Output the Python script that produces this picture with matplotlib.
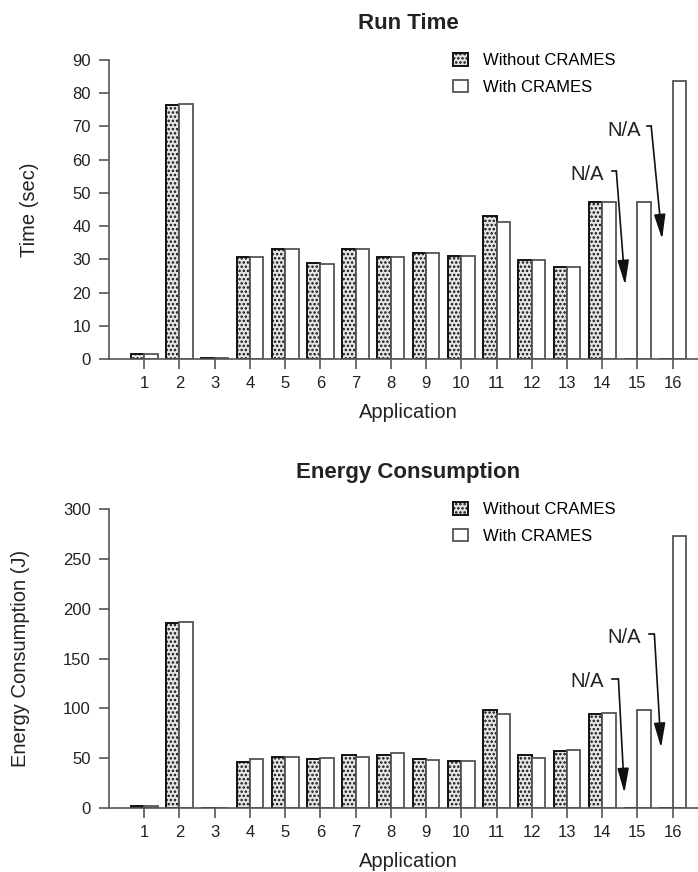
import numpy as np
import matplotlib
matplotlib.use('Agg')
import matplotlib.pyplot as plt

plt.rcParams['font.family'] = ['Liberation Sans', 'DejaVu Sans']
plt.rcParams['hatch.linewidth'] = 1.2
plt.rcParams['hatch.color'] = '#222222'

apps = list(range(1, 17))

# run time (sec); 0 for apps 15, 16 without CRAMES = N/A
time_without = [1.4, 76.5, 0.3, 30.6, 33.0, 28.8, 33.2, 30.8, 31.8, 31.0, 43.0, 29.7, 27.8, 47.2, 0, 0]
time_with = [1.4, 76.8, 0.3, 30.6, 33.0, 28.7, 33.2, 30.8, 31.8, 31.0, 41.3, 29.7, 27.8, 47.2, 47.2, 83.8]

# energy (J)
energy_without = [2.6, 185.7, 0.5, 46.1, 51.1, 49.0, 53.0, 53.0, 49.0, 47.0, 98.5, 53.0, 57.4, 94.8, 0, 0]
energy_with = [2.6, 186.7, 0.5, 49.1, 51.7, 50.0, 51.4, 55.4, 48.7, 47.0, 94.2, 50.4, 58.7, 95.5, 98.8, 273.2]

x = np.array(apps)
w = 0.38

fig = plt.figure(figsize=(6.98, 8.72), dpi=100)
ax1 = fig.add_axes([0.1562, 0.5883, 0.858, 0.3429])
ax2 = fig.add_axes([0.1562, 0.0731, 0.858, 0.3433])


def draw(ax, without, withc, ymax, step, title, ylabel, na):
    ax.bar(x - w / 2, without, w, facecolor='#e6e6e6', edgecolor='#111111',
           linewidth=1.4, hatch='....', label='Without CRAMES')
    ax.bar(x + w / 2, withc, w, facecolor='white', edgecolor='#555555',
           linewidth=1.3, label='With CRAMES')
    ax.set_xlim(0, 17)
    ax.set_ylim(0, ymax)
    ax.set_xticks(apps)
    ax.set_yticks(np.arange(0, ymax + 1, step))
    for s in ['top', 'right']:
        ax.spines[s].set_visible(False)
    for s in ['left', 'bottom']:
        ax.spines[s].set_linewidth(1.2)
        ax.spines[s].set_color('#555555')
    ax.tick_params(direction='out', length=7, width=1.2, color='#555555',
                   labelsize=12, labelcolor='#222222')
    ax.tick_params(axis='x', pad=5)
    ax.tick_params(axis='y', pad=6)
    ax.set_title(title, fontsize=16, fontweight='bold', pad=22, color='#222222')
    ax.set_xlabel('Application', fontsize=14.5, color='#222222', labelpad=9)
    ax.set_ylabel(ylabel, fontsize=14.5, color='#222222', labelpad=24)
    ax.legend(loc='upper left', bbox_to_anchor=(0.561, 1.05), frameon=False,
              fontsize=12, handlelength=0.9, handleheight=0.75,
              handletextpad=0.9, labelspacing=0.68, borderpad=0)
    # N/A markers: text pos, hook end, arrow tip
    for tx, ty, hx0, hx1, hy, px, py in na:
        ax.text(tx, ty, 'N/A', fontsize=14.5, ha='right', va='center', color='#222222')
        ax.plot([hx0, hx1], [hy, hy], color='#111111', lw=1.2)
        ax.annotate('', xy=(px, py), xytext=(hx1, hy),
                    arrowprops=dict(arrowstyle='-|>,head_length=1.5,head_width=0.35',
                                    color='#111111', lw=1.2, shrinkA=0, shrinkB=0))


draw(ax1, time_without, time_with, 90, 10, 'Run Time', 'Time (sec)',
     [(14.06, 55.4, 14.29, 14.40, 56.6, 14.65, 22.3),
      (15.11, 68.9, 15.28, 15.39, 70.1, 15.70, 36.1)])
draw(ax2, energy_without, energy_with, 300, 50, 'Energy Consumption',
     'Energy Consumption (J)',
     [(14.06, 126.6, 14.29, 14.46, 129.7, 14.63, 15.3),
      (15.11, 171.0, 15.33, 15.48, 174.6, 15.67, 60.7)])

fig.savefig('out.png', dpi=100)
